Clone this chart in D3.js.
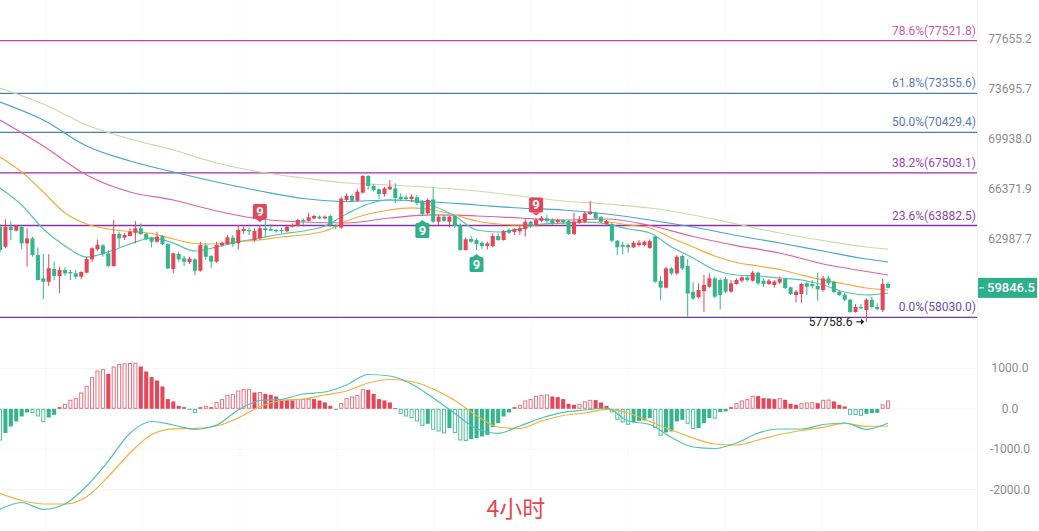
<!DOCTYPE html>
<html><head><meta charset="utf-8">
<script src="https://cdn.jsdelivr.net/npm/d3@7/dist/d3.min.js"></script>
<style>html,body{margin:0;padding:0;background:#fff;}svg{display:block;font-family:Roboto,"Noto Sans",sans-serif;}</style>
</head><body>
<svg id="c" width="1039" height="531"></svg>
<script>
// ---------- DATA ----------
const opens = [63800,62480,63800,63540,63800,62700,63030,61940,60450,60230,61040,60595,60976,60849,60760,60550,60810,61660,62310,62570,62050,61232,63319,63080,63187,63400,63700,63319,63100,62810,63187,62659,61040,62006,61730,61488,61660,60930,62570,61877,61510,62570,62659,63080,62700,63520,63584,62921,63030,63700,63650,63584,63584,63500,63800,63852,64253,64200,64360,64480,64360,64524,63900,63750,65612,65887,65560,66120,67281,66583,66350,66025,66350,66420,65840,65800,65680,65800,65500,64700,65650,64140,64480,64140,64524,63920,62266,62990,62921,62740,62528,62528,63187,62921,63584,63451,63500,63650,64140,63920,64200,64360,64253,64119,64253,64180,63319,64070,64140,64659,64750,64440,63985,63985,62880,62600,62590,62440,62590,62590,62400,63150,60280,59860,61080,60760,61877,61232,59600,59270,59650,59920,60450,60341,60400,59610,60090,60300,60510,60300,60810,60300,60090,60030,60180,60400,59880,59400,59464,60130,60090,59964,59712,60450,60230,59610,59420,59110,58353,58660,58475,59110,58660,58475,60090];
const highs = [63985,64300,64140,63920,63920,63700,63140,62440,62006,61990,61510,61190,61150,60976,60976,60900,61830,62440,62960,62659,62266,64253,63470,63360,63700,64180,64030,63400,63140,63470,63250,62700,62090,62160,61877,61830,61730,62810,62700,61940,62810,62810,63250,63250,63920,63800,63750,63700,63920,64253,64000,63650,63750,63852,64030,64340,64360,64750,64600,64560,64550,64600,63985,65820,66070,66000,66350,67350,67350,66722,66420,66530,67001,66770,66070,65960,66000,65960,65612,65740,66490,64590,64590,64524,64590,64030,63080,63187,63030,62850,62810,63360,63360,63584,63700,63700,63852,64360,64200,64360,64524,64590,64360,64340,64320,64253,64750,64524,64820,65550,64820,64524,64253,64050,62921,62810,62700,62850,62921,62880,62970,63187,60600,61190,61150,61940,61940,61680,60215,60130,60660,60760,60560,60450,60560,60341,60450,60595,60595,60930,60870,60450,60400,60341,60560,60450,59920,59712,60170,60230,60341,60780,60595,60595,60280,59690,59520,59180,58845,58845,59200,59300,58900,60430,60215];
const lows = [62136,62380,62921,63490,62310,61190,61830,60300,59130,59964,60341,59510,60595,60341,60400,60400,60760,61500,62220,61830,61150,61190,62440,62921,63140,62700,63250,62921,62440,62740,62590,61040,60760,61510,61232,61360,60660,60870,61617,61090,61440,62480,62590,62480,62310,63320,63250,62810,62921,63100,63500,63400,63400,63451,63750,63800,63920,64160,64300,64300,64300,63800,63650,63650,65540,65480,65500,66070,66350,66190,65680,65840,66302,65400,65540,65612,65480,65270,64524,64590,64030,63920,64100,63760,63720,62220,62220,62740,62266,62340,62310,62440,62850,62880,63320,63250,63250,63140,63720,63800,64100,64050,63920,63990,63990,63250,63250,64000,64030,64590,64253,64030,63850,62790,61940,62000,62100,62400,62480,62500,62340,60160,59091,59800,60660,60660,60976,58060,59091,59190,58370,59860,59200,58500,59520,59540,60050,60180,60230,60230,60030,59920,60030,59860,60090,59770,59400,58930,58900,59400,59800,59050,59610,60030,59500,59340,59030,58300,58310,58540,57758.6,58580,58475,58353,59800];
const closes = [62266,63800,63584,63852,62700,63030,61940,60340,60230,61090,60595,60976,60760,60760,60550,60849,61680,62380,62610,62006,61232,63319,63030,63250,63470,63700,63319,62970,62810,63140,62659,61080,62050,61660,61510,61700,60930,62590,61830,61510,62590,62740,63100,62659,63584,63650,63500,63520,63700,63584,63540,63500,63500,63800,63920,64253,64160,64440,64524,64360,64480,63900,63800,65700,65887,65560,66190,67281,66583,66302,66025,66420,66530,65750,65680,65680,65840,65400,64659,65612,64140,64480,64200,64480,63852,62266,62970,62810,62659,62528,62700,63187,62921,63520,63400,63650,63700,64140,63920,64253,64400,64200,64030,64253,64119,63319,64140,64300,64700,64820,64360,64140,64200,62880,62440,62480,62440,62740,62740,62810,62850,60230,59860,61080,60760,61830,61080,59500,59190,59712,60030,60450,59300,59400,59610,60130,60341,60510,60341,60810,60130,60090,60300,60240,60400,59830,59464,59610,60090,59920,59950,59750,60450,60130,59588,59400,59110,58353,58660,58580,59110,58660,58530,60090,59846.5];

// moving averages, read at every 4th / 8th candle
const maIdxFast = [0,4,8,12,16,20,24,28,32,36,40,44,48,52,56,60,64,68,72,76,80,84,88,92,96,100,104,108,112,116,120,124,128,132,136,140,144,148,152,156,160,164];
const maTeal   = [66441,65270,63650,62528,61810,62136,62659,63055,62720,62200,62460,62790,63055,63319,63517,63852,64659,65339,65612,65543,65203,64524,63584,63451,63650,63985,64052,64119,63985,63650,63385,62463,61748,60976,60658,60595,60468,60341,60027,59588,59402,59526];
const maOrange = [68633,67563,66163,64726,63985,63650,63484,63352,62988,62692,62659,62823,62921,63121,63253,63517,64186,64659,64929,65067,64929,64591,64186,63985,63920,63952,64052,64085,64119,63920,63718,63055,62463,61877,61456,61232,61008,60658,60341,60090,59839,59712];
const maIdxSlow = [0,8,16,24,32,40,48,56,64,72,80,88,96,104,112,120,128,136,144,152,160,164];
const maPink  = [71343,69428,67352,66163,65612,64862,64321,64119,64052,64389,64592,64524,64389,64253,64321,63886,63152,62558,62071,61360,60880,60658];
const maBlue  = [72700,71343,69428,68346,67563,66860,66233,65716,65509,65612,65475,65270,65065,64929,64657,64253,63784,63219,62723,62203,61683,61489];
const maBeige = [73773,72548,70970,69938,69137,68203,67563,67140,66790,66651,66476,66233,65887,65544,65338,65065,64592,63985,63383,62888,62463,62333];

// Fibonacci levels
const fibLabels = ["78.6%","61.8%","50.0%","38.2%","23.6%","0.0%"];
const fibValues = [77521.8,73355.6,70429.4,67503.1,63882.5,58030.0];

// axis ticks
const priceTicks = [77655.2,73695.7,69938.0,66371.9,62987.7];
const lastPrice = 59846.5;
const lowMark = {idx:160, value:57758.6};

// TD sequential "9" marks
const tdSell = [48,99];
const tdBuy  = [78,88];

// MACD
const macdHist = [-785,-600,-437,-313,-190,-90,-107,-190,-330,-215,-148,40,124,223,264,404,569,784,948,982,866,1048,1110,1125,1135,1140,1048,924,784,700,553,240,182,74,40,-15,-107,40,74,40,165,240,346,360,454,487,495,404,415,371,346,305,223,215,210,240,245,250,240,206,157,74,-25,140,264,305,346,487,470,371,240,206,157,17,-124,-190,-231,-313,-421,-371,-520,-561,-610,-479,-602,-784,-800,-750,-726,-685,-644,-454,-355,-190,-90,40,99,206,240,322,346,355,305,289,240,124,99,124,182,223,215,157,74,-90,-272,-338,-396,-330,-300,-290,-231,-479,-668,-585,-561,-313,-272,-371,-503,-479,-355,-231,-245,-82,-66,40,140,206,240,322,315,264,255,240,264,223,124,99,140,157,165,140,223,230,182,99,58,-148,-155,-173,-124,-107,-100,110,206];
const macdDif = [-2488,-2319,-2488,-2356,-1911,-1292,-606,-314,-401,-507,-401,-30,205,235,366,416,589,849,812,614,267,-116,-488,-606,-426,-228,-87,-30,20,-302,-389,-710,-946,-983,-847,-599,-500,-500,-389,-351,-507,-351];
const macdDea = [-2092,-2270,-2356,-2356,-2176,-1676,-1094,-636,-495,-483,-426,-228,57,205,243,342,441,639,725,676,490,205,-166,-450,-488,-302,-166,-104,-12,-104,-314,-525,-723,-871,-896,-772,-636,-537,-458,-359,-433,-426];
const macdTicks = [1000,0,-1000,-2000];
const periodLabel = "4小时";

// ---------- DRAW ----------
const UP="#e5475a", DOWN="#35b58c";
const svg = d3.select("#c");
const plotRight = 977;
const n = closes.length;
const x = d3.scaleBand().domain(closes.map((d,i)=>i)).range([-2.71, -2.71+5.415*n]).paddingInner(0.25).paddingOuter(0.125);
const cx = i => x(i) + x.bandwidth()/2;
const y = d3.scaleLog().domain([56669, 80890]).range([340, 0]);
const yM = d3.scaleLinear().domain([-2600, 1400]).range([408.8+0.0404*2600, 408.8-0.0404*1400]);

svg.append("clipPath").attr("id","pc").append("rect").attr("x",0).attr("y",0).attr("width",plotRight).attr("height",531);

// faint grid
const grid = svg.append("g");
grid.selectAll("line.v").data([46,143,240,337,434,531,628,725,822]).join("line")
  .attr("x1",d=>d).attr("x2",d=>d).attr("y1",0).attr("y2",531).attr("stroke","#f9f9f9").attr("stroke-width",1);
grid.selectAll("line.h").data(macdTicks).join("line")
  .attr("x1",0).attr("x2",plotRight).attr("y1",d=>yM(d)).attr("y2",d=>yM(d)).attr("stroke","#f6f6f6");
grid.append("line").attr("x1",plotRight+0.5).attr("x2",plotRight+0.5).attr("y1",0).attr("y2",531).attr("stroke","#f3f3f3");

// fib lines
const fibLine = ["#cc3ea0","#4a7fb2","#4a7fb2","#9a2fae","#8a2fa8","#6a3d9e"];
const fibText = ["#d05aa8","#5a7cbf","#5a78bf","#9b45b5","#8e45b2","#6c4ab5"];
const fib = svg.append("g");
fibValues.forEach((v,k)=>{
  fib.append("line").attr("x1",0).attr("x2",plotRight).attr("y1",y(v)).attr("y2",y(v))
    .attr("stroke",fibLine[k]).attr("stroke-width",1.3);
  fib.append("text").attr("x",plotRight-1).attr("y",y(v)-6).attr("text-anchor","end")
    .attr("font-size",12).attr("fill",fibText[k]).text(`${fibLabels[k]}(${v.toFixed(1)})`);
});

// MAs
const g = svg.append("g").attr("clip-path","url(#pc)");
const maLine = d3.line().x(d=>cx(d[0])).y(d=>y(d[1])).curve(d3.curveMonotoneX);
[[maIdxSlow,maBeige,"#cbdba8"],[maIdxSlow,maBlue,"#47a5d2"],[maIdxSlow,maPink,"#e062a8"],
 [maIdxFast,maOrange,"#f3ad3a"],[maIdxFast,maTeal,"#55c3b5"]].forEach(([ix,vals,col])=>{
  g.append("path").attr("d",maLine(ix.map((d,k)=>[d,vals[k]]))).attr("fill","none").attr("stroke",col).attr("stroke-width",1.2);
});

// candles
const cg = g.append("g");
closes.forEach((c,i)=>{
  const o=opens[i], col = c>=o?UP:DOWN;
  cg.append("line").attr("x1",cx(i)).attr("x2",cx(i)).attr("y1",y(highs[i])).attr("y2",y(lows[i])).attr("stroke",col).attr("stroke-width",1);
  const t=Math.min(y(o),y(c)), b=Math.max(y(o),y(c));
  cg.append("rect").attr("x",x(i)).attr("width",x.bandwidth()).attr("y",t).attr("height",Math.max(1,b-t)).attr("fill",col);
});

// TD marks
function tdMark(i, sell){
  const col = sell?UP:"#2fb08a";
  const w=14,h=15;
  const xc=cx(i);
  if(sell){
    const yb = y(highs[i])-3;
    svg.append("path").attr("d",`M${xc-4},${yb-3}L${xc},${yb}L${xc+4},${yb-3}Z`).attr("fill",col);
    svg.append("rect").attr("x",xc-w/2).attr("y",yb-3-h).attr("width",w).attr("height",h).attr("rx",1.5).attr("fill",col);
    svg.append("text").attr("x",xc).attr("y",yb-3-h/2+4.5).attr("text-anchor","middle").attr("font-size",13).attr("font-weight","bold").attr("fill","#fff").text("9");
  } else {
    const yt = y(lows[i])+4;
    svg.append("path").attr("d",`M${xc-4},${yt+3}L${xc},${yt}L${xc+4},${yt+3}Z`).attr("fill",col);
    svg.append("rect").attr("x",xc-w/2).attr("y",yt+3).attr("width",w).attr("height",h).attr("rx",1.5).attr("fill",col);
    svg.append("text").attr("x",xc).attr("y",yt+3+h/2+4.5).attr("text-anchor","middle").attr("font-size",13).attr("font-weight","bold").attr("fill","#fff").text("9");
  }
}
tdSell.forEach(i=>tdMark(i,true));
tdBuy.forEach(i=>tdMark(i,false));

// low marker
const lx = cx(lowMark.idx);
const ly = y(lowMark.value);
svg.append("text").attr("x",lx-14).attr("y",ly+4).attr("text-anchor","end").attr("font-size",12).attr("fill","#222").text(lowMark.value.toFixed(1));
svg.append("line").attr("x1",lx-10).attr("x2",lx-4).attr("y1",ly).attr("y2",ly).attr("stroke","#222").attr("stroke-width",1.2);
svg.append("path").attr("d",`M${lx-2},${ly}L${lx-5.5},${ly-3}L${lx-5.5},${ly+3}Z`).attr("fill","#222");

// price axis labels
svg.selectAll("text.pt").data(priceTicks).join("text").attr("x",1010).attr("y",d=>y(d)+4)
  .attr("text-anchor","middle").attr("font-size",12).attr("fill","#8c8c8c").text(d=>d.toFixed(1));
// last price tag
const lpY = y(lastPrice);
svg.append("rect").attr("x",978).attr("y",lpY-10).attr("width",59).attr("height",20).attr("fill","#2bb089");
svg.append("line").attr("x1",979).attr("x2",984).attr("y1",lpY).attr("y2",lpY).attr("stroke","#fff");
svg.append("text").attr("x",1011).attr("y",lpY+4.5).attr("text-anchor","middle").attr("font-size",13).attr("font-weight",500).attr("fill","#fff").text(lastPrice.toFixed(1));

// MACD histogram
const mg = svg.append("g").attr("clip-path","url(#pc)");
macdHist.forEach((v,i)=>{
  const prev = i>0?Math.abs(macdHist[i-1]):0;
  const hollow = Math.abs(v) > prev;
  const col = v>=0?UP:DOWN;
  const t=Math.min(yM(v),yM(0)), b=Math.max(yM(v),yM(0));
  const hh=Math.max(1,b-t);
  if(hollow){
    mg.append("rect").attr("x",x(i)+0.5).attr("y",t+0.5).attr("width",x.bandwidth()-1).attr("height",Math.max(0.5,hh-1))
      .attr("fill","#fff").attr("stroke",v>=0?"#e8727f":"#4fbf9a").attr("stroke-width",1);
  } else {
    mg.append("rect").attr("x",x(i)).attr("y",t).attr("width",x.bandwidth()).attr("height",hh).attr("fill",col);
  }
});
const mLine = d3.line().x(d=>cx(d[0])).y(d=>yM(d[1])).curve(d3.curveMonotoneX);
mg.append("path").attr("d",mLine(maIdxFast.map((d,k)=>[d,macdDea[k]]))).attr("fill","none").attr("stroke","#f3b03d").attr("stroke-width",1.2);
mg.append("path").attr("d",mLine(maIdxFast.map((d,k)=>[d,macdDif[k]]))).attr("fill","none").attr("stroke","#4fc3b4").attr("stroke-width",1.2);

svg.selectAll("text.mt").data(macdTicks).join("text").attr("x",1010).attr("y",d=>yM(d)+4)
  .attr("text-anchor","middle").attr("font-size",12).attr("fill","#8c8c8c").text(d=>d.toFixed(1));

// period label
svg.append("text").attr("x",516).attr("y",517).attr("text-anchor","middle").attr("font-size",23)
  .attr("font-family","'Noto Sans CJK SC',sans-serif").attr("fill","#e5474f").text(periodLabel);
</script>
</body></html>
